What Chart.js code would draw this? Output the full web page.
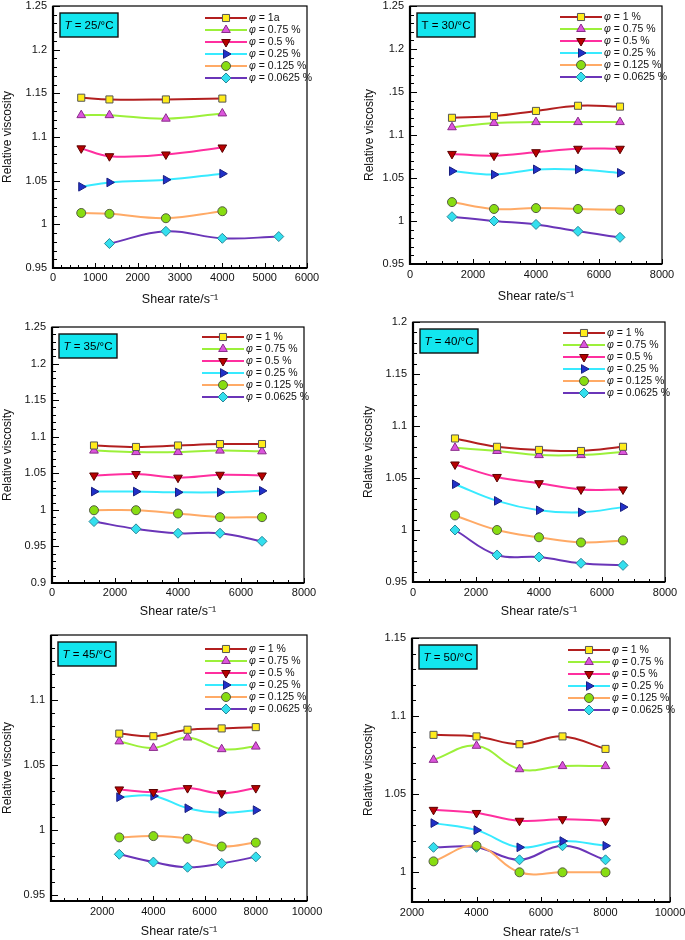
<!DOCTYPE html>
<html><head><meta charset="utf-8">
<script src="https://cdn.jsdelivr.net/npm/chart.js@4.4.1/dist/chart.umd.min.js"></script>
<style>
html,body{margin:0;padding:0;background:#fff;}
body{width:685px;height:940px;position:relative;overflow:hidden;}
</style></head><body>
<script>
// ---------- DATA ----------
const shear25 = [667, 1333, 2667, 4000];
const shear25b = [1333, 2667, 4000, 5333];
const shearMid = [1333, 2667, 4000, 5333, 6667];
const shearHigh = [2667, 4000, 5333, 6667, 8000];

const phiLabels = ['1 %', '0.75 %', '0.5 %', '0.25 %', '0.125 %', '0.0625 %'];
const phiLabels25 = ['1a', '0.75 %', '0.5 %', '0.25 %', '0.125 %', '0.0625 %'];

const v25_1 = [1.145, 1.143, 1.143, 1.144];
const v25_075 = [1.125, 1.125, 1.121, 1.127];
const v25_05 = [1.087, 1.078, 1.080, 1.088];
const v25_025 = [1.043, 1.048, 1.051, 1.058];
const v25_0125 = [1.013, 1.012, 1.007, 1.015];
const v25_00625 = [0.978, 0.992, 0.984, 0.986];

const v30_1 = [1.120, 1.122, 1.128, 1.134, 1.133];
const v30_075 = [1.109, 1.114, 1.115, 1.115, 1.115];
const v30_05 = [1.078, 1.076, 1.080, 1.084, 1.084];
const v30_025 = [1.058, 1.054, 1.060, 1.060, 1.056];
const v30_0125 = [1.022, 1.014, 1.015, 1.014, 1.013];
const v30_00625 = [1.005, 1.000, 0.996, 0.988, 0.981];

const v35_1 = [1.088, 1.086, 1.088, 1.090, 1.090];
const v35_075 = [1.081, 1.079, 1.079, 1.081, 1.080];
const v35_05 = [1.047, 1.049, 1.044, 1.048, 1.047];
const v35_025 = [1.025, 1.025, 1.024, 1.024, 1.026];
const v35_0125 = [0.9995, 0.9995, 0.995, 0.990, 0.990];
const v35_00625 = [0.984, 0.974, 0.968, 0.968, 0.957];

const v40_1 = [1.088, 1.080, 1.077, 1.076, 1.080];
const v40_075 = [1.079, 1.076, 1.072, 1.072, 1.075];
const v40_05 = [1.063, 1.051, 1.045, 1.039, 1.039];
const v40_025 = [1.044, 1.028, 1.019, 1.017, 1.022];
const v40_0125 = [1.014, 1.000, 0.993, 0.988, 0.990];
const v40_00625 = [1.000, 0.976, 0.974, 0.968, 0.966];

const v45_1 = [1.074, 1.072, 1.077, 1.078, 1.079];
const v45_075 = [1.068, 1.063, 1.071, 1.062, 1.064];
const v45_05 = [1.031, 1.029, 1.032, 1.028, 1.032];
const v45_025 = [1.025, 1.026, 1.0165, 1.013, 1.015];
const v45_0125 = [0.994, 0.995, 0.993, 0.987, 0.990];
const v45_00625 = [0.981, 0.975, 0.971, 0.974, 0.979];

const v50_1 = [1.088, 1.087, 1.082, 1.087, 1.079];
const v50_075 = [1.072, 1.081, 1.066, 1.068, 1.068];
const v50_05 = [1.040, 1.038, 1.033, 1.034, 1.033];
const v50_025 = [1.0315, 1.027, 1.016, 1.020, 1.017];
const v50_0125 = [1.007, 1.017, 1.000, 1.000, 1.000];
const v50_00625 = [1.016, 1.016, 1.008, 1.017, 1.008];

// tick values and labels
const xTicks6k = [0, 1000, 2000, 3000, 4000, 5000, 6000];
const xLabels6k = ['0', '1000', '2000', '3000', '4000', '5000', '6000'];
const xTicks8k = [0, 2000, 4000, 6000, 8000];
const xLabels8k = ['0', '2000', '4000', '6000', '8000'];
const xTicks10k = [2000, 4000, 6000, 8000, 10000];
const xLabels10k = ['2000', '4000', '6000', '8000', '10000'];

const yTicks25 = [0.95, 1, 1.05, 1.1, 1.15, 1.2, 1.25];
const yLabels25 = ['0.95', '1', '1.05', '1.1', '1.15', '1.2', '1.25'];
const yLabels30 = ['0.95', '1', '1.05', '1.1', '.15', '1.2', '1.25'];
const yTicks35 = [0.9, 0.95, 1, 1.05, 1.1, 1.15, 1.2, 1.25];
const yLabels35 = ['0.9', '0.95', '1', '1.05', '1.1', '1.15', '1.2', '1.25'];
const yTicks40 = [0.95, 1, 1.05, 1.1, 1.15, 1.2];
const yLabels40 = ['0.95', '1', '1.05', '1.1', '1.15', '1.2'];
const yTicks45 = [0.95, 1, 1.05, 1.1];
const yLabels45 = ['0.95', '1', '1.05', '1.1'];
const yTicks50 = [1, 1.05, 1.1, 1.15];
const yLabels50 = ['1', '1.05', '1.1', '1.15'];

// ---------- STYLES ----------
const FONT = "'Liberation Sans', Arial, sans-serif";
const seriesStyles = [
  {line: '#b21f1f', fill: '#ffec1a', border: '#555555', shape: 'rect', rot: 0, r: 5},
  {line: '#9cf03a', fill: '#dc55dc', border: '#8a2a8a', shape: 'triangle', rot: 0, r: 5},
  {line: '#ff2f9f', fill: '#b80000', border: '#5a0000', shape: 'triangle', rot: 180, r: 5},
  {line: '#38eaff', fill: '#2030c8', border: '#1a2080', shape: 'triangle', rot: 90, r: 5},
  {line: '#ffaa66', fill: '#88dd11', border: '#555c44', shape: 'circle', rot: 0, r: 4.5},
  {line: '#6a35b8', fill: '#33dfee', border: '#2a8899', shape: 'rectRot', rot: 0, r: 5}
];

const panels = [
  {box: [0, 0, 340, 310], plot: [53, 6, 307, 268], yt: 8, xl: 278, xt: 300,
   xMin: 0, xMax: 6000, xTicks: xTicks6k, xLabels: xLabels6k, xMinor: 200,
   yMin: 0.95, yMax: 1.25, yTicks: yTicks25, yLabels: yLabels25,
   temp: '25', italicT: true, legend: phiLabels25, legTop: 12,
   xs: [shear25, shear25, shear25, shear25, shear25, shear25b],
   ys: [v25_1, v25_075, v25_05, v25_025, v25_0125, v25_00625]},
  {box: [340, 0, 345, 310], plot: [410, 5, 662, 264], yt: 370, xl: 275, xt: 297,
   xMin: 0, xMax: 8000, xTicks: xTicks8k, xLabels: xLabels8k, xMinor: 500,
   yMin: 0.95, yMax: 1.25, yTicks: yTicks25, yLabels: yLabels30,
   temp: '30', italicT: false, legend: phiLabels, legTop: 11,
   xs: [shearMid, shearMid, shearMid, shearMid, shearMid, shearMid],
   ys: [v30_1, v30_075, v30_05, v30_025, v30_0125, v30_00625]},
  {box: [0, 310, 340, 310], plot: [52, 327, 304, 583], yt: 7, xl: 593, xt: 612,
   xMin: 0, xMax: 8000, xTicks: xTicks8k, xLabels: xLabels8k, xMinor: 500,
   yMin: 0.9, yMax: 1.25, yTicks: yTicks35, yLabels: yLabels35,
   temp: '35', italicT: true, legend: phiLabels, legTop: 10,
   xs: [shearMid, shearMid, shearMid, shearMid, shearMid, shearMid],
   ys: [v35_1, v35_075, v35_05, v35_025, v35_0125, v35_00625]},
  {box: [340, 310, 345, 310], plot: [413, 322, 665, 582], yt: 369, xl: 593, xt: 612,
   xMin: 0, xMax: 8000, xTicks: xTicks8k, xLabels: xLabels8k, xMinor: 500,
   yMin: 0.95, yMax: 1.2, yTicks: yTicks40, yLabels: yLabels40,
   temp: '40', italicT: true, legend: phiLabels, legTop: 11,
   xs: [shearMid, shearMid, shearMid, shearMid, shearMid, shearMid],
   ys: [v40_1, v40_075, v40_05, v40_025, v40_0125, v40_00625]},
  {box: [0, 620, 340, 320], plot: [51, 635, 307, 901], yt: 7, xl: 912, xt: 932,
   xMin: 0, xMax: 10000, xTicks: xTicks10k, xLabels: xLabels10k, xMinor: 500,
   yMin: 0.945, yMax: 1.15, yTicks: yTicks45, yLabels: yLabels45,
   temp: '45', italicT: true, legend: phiLabels, legTop: 14,
   xs: [shearHigh, shearHigh, shearHigh, shearHigh, shearHigh, shearHigh],
   ys: [v45_1, v45_075, v45_05, v45_025, v45_0125, v45_00625]},
  {box: [340, 620, 345, 320], plot: [412, 638, 670, 902], yt: 369, xl: 913, xt: 933,
   xMin: 2000, xMax: 10000, xTicks: xTicks10k, xLabels: xLabels10k, xMinor: 500,
   yMin: 0.981, yMax: 1.15, yTicks: yTicks50, yLabels: yLabels50,
   temp: '50', italicT: true, legend: phiLabels, legTop: 12,
   xs: [shearHigh, shearHigh, shearHigh, shearHigh, shearHigh, shearHigh],
   ys: [v50_1, v50_075, v50_05, v50_025, v50_0125, v50_00625]}
];

// ---------- DECORATION PLUGIN ----------
const decoPlugin = {
  id: 'deco',
  afterDatasetsDraw(chart) {
    const p = chart.options.plugins.deco;
    const ctx = chart.ctx;
    const {left, right, top, bottom} = chart.chartArea;
    const ys = chart.scales.y, xs = chart.scales.x;
    ctx.save();
    // inward ticks
    ctx.strokeStyle = '#000';
    ctx.lineWidth = 1;
    ctx.beginPath();
    for (let k = Math.ceil(ys.min * 100 - 1e-6); k <= Math.floor(ys.max * 100 + 1e-6); k++) {
      const py = Math.round(ys.getPixelForValue(k / 100)) + 0.5;
      const len = (k % 5 === 0) ? 7 : 4;
      ctx.moveTo(left, py); ctx.lineTo(left + len, py);
    }
    for (let k = Math.ceil(xs.min / p.xMinor); k <= Math.floor(xs.max / p.xMinor); k++) {
      const v = k * p.xMinor;
      const px = Math.round(xs.getPixelForValue(v)) + 0.5;
      const len = (v % 1000 === 0 && (p.xMinor === 200 ? true : v % 2000 === 0)) ? 5 : 3;
      ctx.moveTo(px, bottom); ctx.lineTo(px, bottom - len);
    }
    ctx.stroke();
    // frame
    ctx.lineWidth = 1.2;
    ctx.strokeRect(left, top, right - left, bottom - top);
    ctx.lineWidth = 2.2;
    ctx.beginPath();
    ctx.moveTo(left, top); ctx.lineTo(left, bottom); ctx.lineTo(right, bottom);
    ctx.stroke();

    // temperature box
    const bx = left + 7, by = top + 7, bw = 58, bh = 24;
    ctx.fillStyle = '#12e6ef';
    ctx.fillRect(bx, by, bw, bh);
    ctx.lineWidth = 1.4;
    ctx.strokeStyle = '#111';
    ctx.strokeRect(bx, by, bw, bh);
    const rest = ' = ' + p.temp + '/°C';
    const tFont = (p.italicT ? 'italic ' : '') + '11.5px ' + FONT;
    const rFont = '11.5px ' + FONT;
    ctx.font = tFont; const tw = ctx.measureText('T').width;
    ctx.font = rFont; const rw = ctx.measureText(rest).width;
    let tx = bx + (bw - tw - rw) / 2;
    ctx.fillStyle = '#000';
    ctx.textBaseline = 'middle';
    ctx.textAlign = 'left';
    ctx.font = tFont; ctx.fillText('T', tx, by + bh / 2 + 0.5);
    ctx.font = rFont; ctx.fillText(rest, tx + tw, by + bh / 2 + 0.5);

    // legend
    chart.data.datasets.forEach((ds, i) => {
      const st = seriesStyles[i];
      const ry = top + p.legTop + i * 12;
      const lx0 = right - 102, lx1 = right - 60;
      ctx.strokeStyle = st.line;
      ctx.lineWidth = 2;
      ctx.beginPath(); ctx.moveTo(lx0, ry); ctx.lineTo(lx1, ry); ctx.stroke();
      ctx.fillStyle = st.fill;
      ctx.strokeStyle = st.border;
      ctx.lineWidth = 1;
      Chart.helpers.drawPoint(ctx, {pointStyle: st.shape, radius: st.r, rotation: st.rot, borderWidth: 1}, (lx0 + lx1) / 2, ry);
      ctx.fillStyle = '#111';
      ctx.font = 'italic 10.5px ' + FONT;
      ctx.fillText('φ', lx1 + 2, ry + 0.5);
      const fw = ctx.measureText('φ').width;
      ctx.font = '10.5px ' + FONT;
      ctx.fillText(' = ' + p.legend[i], lx1 + 2 + fw, ry + 0.5);
    });
    ctx.restore();
  }
};

function makeChart(p) {
  const [divX, divY, w, h] = p.box;
  const [L, T, R, B] = p.plot;
  const padLeft = Math.max(0, p.yt - 7.2 - divX);
  const yW = L - divX - padLeft;
  const xH = divY + h - B;
  const wrap = document.createElement('div');
  wrap.style.cssText = `position:absolute;left:${divX}px;top:${divY}px;width:${w}px;height:${h}px;`;
  const cv = document.createElement('canvas');
  cv.width = w; cv.height = h;
  cv.style.width = w + 'px'; cv.style.height = h + 'px';
  wrap.appendChild(cv);
  document.body.appendChild(wrap);

  const datasets = p.ys.map((vals, i) => {
    const st = seriesStyles[i];
    const xv = p.xs[i];
    return {
      label: 'φ = ' + p.legend[i],
      data: vals.map((v, j) => ({x: xv[j], y: v})),
      borderColor: st.line,
      borderWidth: 2,
      tension: 0.4,
      fill: false,
      pointStyle: st.shape,
      pointRotation: st.rot,
      pointRadius: st.r,
      pointBackgroundColor: st.fill,
      pointBorderColor: st.border,
      pointBorderWidth: 1
    };
  });

  new Chart(cv, {
    type: 'line',
    data: {datasets},
    plugins: [decoPlugin],
    options: {
      responsive: false,
      animation: false,
      devicePixelRatio: 1,
      layout: {padding: {left: padLeft, top: T - divY, right: divX + w - R, bottom: 0}},
      plugins: {legend: {display: false}, tooltip: {enabled: false}, deco: p},
      scales: {
        x: {
          type: 'linear', min: p.xMin, max: p.xMax,
          grid: {display: false, drawTicks: false},
          border: {display: false},
          afterBuildTicks: s => { s.ticks = p.xTicks.map(v => ({value: v})); },
          ticks: {
            callback: (v) => { const idx = p.xTicks.indexOf(v); return idx >= 0 ? p.xLabels[idx] : ''; },
            padding: p.xl - B - 6.6, font: {size: 11, family: FONT}, color: '#111',
            maxRotation: 0, minRotation: 0, autoSkip: false
          },
          title: {display: true, text: 'Shear rate/s⁻¹', font: {size: 12.5, family: FONT}, color: '#111',
                  padding: {top: 0, bottom: (divY + h - p.xt) - 7.5}},
          afterFit: s => { s.height = xH; s.paddingLeft = 0; s.paddingRight = 0; }
        },
        y: {
          type: 'linear', min: p.yMin, max: p.yMax,
          grid: {display: false, drawTicks: false},
          border: {display: false},
          afterBuildTicks: s => { s.ticks = p.yTicks.map(v => ({value: v})); },
          ticks: {
            callback: (v) => { const idx = p.yTicks.findIndex(t => Math.abs(t - v) < 1e-9); return idx >= 0 ? p.yLabels[idx] : ''; },
            padding: 6, font: {size: 11, family: FONT}, color: '#111', autoSkip: false
          },
          title: {display: true, text: 'Relative viscosity', font: {size: 12, family: FONT}, color: '#111',
                  padding: {top: 0, bottom: 0}},
          afterFit: s => { s.width = yW; s.paddingTop = 0; s.paddingBottom = 0; }
        }
      }
    }
  });
}

panels.forEach(makeChart);
</script>
</body></html>
